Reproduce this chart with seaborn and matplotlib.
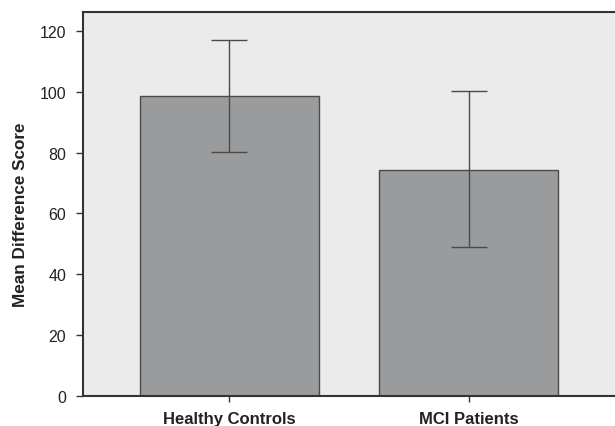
import matplotlib
matplotlib.use("Agg")
import matplotlib.pyplot as plt
import seaborn as sns
import numpy as np

groups = ["Healthy Controls", "MCI Patients"]
means = [98.6, 74.3]
err_low = [80.2, 49.0]
err_high = [117.0, 100.3]
y_ticks = [0, 20, 40, 60, 80, 100, 120]

sns.set_theme(style="ticks")
plt.rcParams["font.family"] = ["Liberation Sans", "DejaVu Sans"]

fig = plt.figure(figsize=(6.15, 4.27), dpi=100)
ax = fig.add_axes([0.135, 0.0703, 0.872, 0.8993])
ax.set_facecolor("#eaebea")

sns.barplot(x=groups, y=means, errorbar=None, color="#9a9b9d",
            saturation=1, width=0.75, edgecolor="#4a4a4a", linewidth=1.0, ax=ax)

centers = [p.get_x() + p.get_width() / 2 for p in ax.patches]
lower = np.array(means) - np.array(err_low)
upper = np.array(err_high) - np.array(means)
ax.errorbar(centers, means, yerr=[lower, upper], fmt="none",
            ecolor="#4a4a4a", elinewidth=1.0, capsize=13.3, capthick=1.0)

ax.set_xlim(-0.612, 1.63)
ax.set_ylim(0, 126.2)
ax.set_yticks(y_ticks)
ax.set_yticklabels([str(t) for t in y_ticks], fontsize=11.5, color="#222222")
ax.set_xticks(range(len(groups)))
ax.set_xticklabels(groups, fontsize=12, fontweight="bold", color="#222222")
ax.set_xlabel("")
ax.set_ylabel("Mean Difference Score", fontsize=12.3, fontweight="bold",
              color="#222222")
ax.yaxis.set_label_coords(-0.103, 0.475)

for s in ax.spines.values():
    s.set_color("#333333")
    s.set_linewidth(1.5)
ax.tick_params(axis="y", length=5, width=1.0, color="#333333", pad=7)
ax.tick_params(axis="x", length=4, width=1.0, color="#333333", pad=7)

fig.savefig("out.png", dpi=100)
